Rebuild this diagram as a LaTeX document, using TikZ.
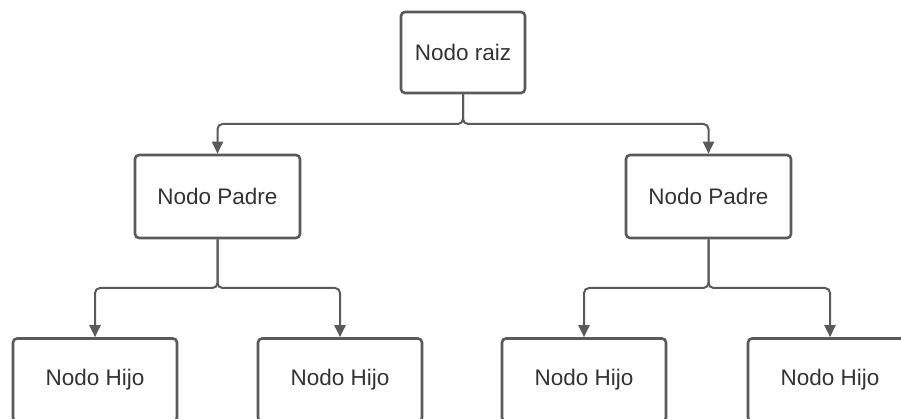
\documentclass[tikz,border=0pt]{standalone}
\usepackage{fontspec}
\setmainfont{Liberation Sans}
\usetikzlibrary{arrows.meta}
\definecolor{edge}{HTML}{5A5A5A}
\definecolor{ink}{HTML}{333333}
\begin{document}
\begin{tikzpicture}[x=1pt,y=-1pt,
  treebox/.style={draw=edge, line width=2.6pt, rounded corners=4pt, fill=white,
    text=ink, font=\fontsize{22.5}{27}\selectfont, inner sep=0pt},
  rootbox/.style={treebox, minimum width=124pt, minimum height=81pt},
  parentbox/.style={treebox, minimum width=165pt, minimum height=83pt},
  childbox/.style={treebox, minimum width=164pt, minimum height=83pt},
  conn/.style={draw=edge, line width=2pt, rounded corners=5pt,
    -{Triangle[length=12pt,width=11pt]}}]
\useasboundingbox (0,0) rectangle (901,419);
\clip (0,0) rectangle (901,419);

% tree nodes
\node[rootbox] (root) at (463,52.5) {Nodo raiz};
\node[parentbox] (pl) at (217.5,196.5) {Nodo Padre};
\node[parentbox] (pr) at (708.5,196.5) {Nodo Padre};
\node[childbox] (c1) at (95,380) {Nodo Hijo};
\node[childbox] (c2) at (340,380) {Nodo Hijo};
\node[childbox] (c3) at (584,380) {Nodo Hijo};
\node[childbox] (c4) at (830,380) {Nodo Hijo};

% branching points
\coordinate (j0) at (463,124);
\coordinate (jl) at (217.5,288);
\coordinate (jr) at (708.5,288);

% connectors
\draw[conn] (root.south) -- (j0) -| (pl.north);
\draw[conn] (root.south) -- (j0) -| (pr.north);
\draw[conn] (pl.south) -- (jl) -| (c1.north);
\draw[conn] (pl.south) -- (jl) -| (c2.north);
\draw[conn] (pr.south) -- (jr) -| (c3.north);
\draw[conn] (pr.south) -- (jr) -| (c4.north);
\end{tikzpicture}
\end{document}
